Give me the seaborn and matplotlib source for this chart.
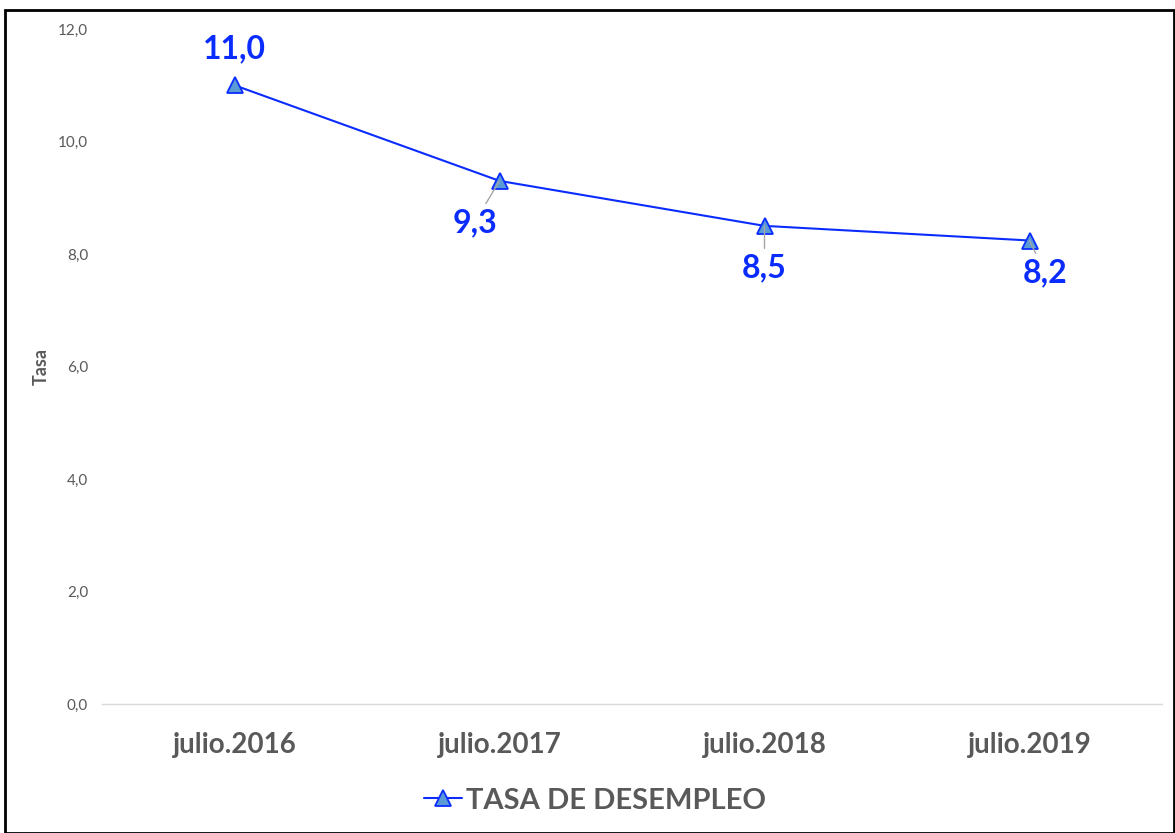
import matplotlib
matplotlib.use("Agg")
import matplotlib.pyplot as plt
import seaborn as sns
import pandas as pd
from matplotlib.patches import Rectangle

# --- DATA ---
periodos = ["julio.2016", "julio.2017", "julio.2018", "julio.2019"]
tasa = [11.0, 9.3, 8.5, 8.24]
serie = "TASA DE DESEMPLEO"
y_ticks = [0, 2, 4, 6, 8, 10, 12]

LINE_BLUE = "#0a2cff"
FILL_BLUE = "#5b9bd5"
GRAY_TXT = "#595959"

sns.set_theme(style="white")
plt.rcParams["font.family"] = ["Lato", "DejaVu Sans"]

df = pd.DataFrame({"periodo": periodos, "tasa": tasa})

fig = plt.figure(figsize=(11.75, 8.33), dpi=100)
ax = fig.add_axes([102 / 1175, 1 - 704 / 833, 1060 / 1175, 675 / 833])

sns.lineplot(data=df, x="periodo", y="tasa", ax=ax, color=LINE_BLUE, lw=1.5,
             marker="^", markersize=11, markerfacecolor=FILL_BLUE,
             markeredgecolor=LINE_BLUE, markeredgewidth=1.3, label=serie,
             sort=False)

ax.set_xlim(-0.5, len(periodos) - 0.5)
ax.set_ylim(0, 12)
ax.set_yticks(y_ticks)
ax.set_yticklabels([f"{v:.1f}".replace(".", ",") for v in y_ticks],
                   fontsize=11, color=GRAY_TXT)
ax.tick_params(axis="x", labelsize=20, labelcolor=GRAY_TXT, length=0, pad=20)
for t in ax.get_xticklabels():
    t.set_fontweight("bold")
ax.tick_params(axis="y", length=0, pad=10)
ax.set_xlabel("")
ax.set_ylabel("Tasa", fontsize=13, fontweight="bold", color=GRAY_TXT)
ax.yaxis.set_label_coords(-0.049, 0.5)

for s in ["top", "right", "left"]:
    ax.spines[s].set_visible(False)
ax.spines["bottom"].set_color("#d9d9d9")
ax.spines["bottom"].set_linewidth(1)

# data labels (offsets in points)
offsets = [(0, 26), (-18, -30), (0, -30), (11, -23)]
leader = [False, True, True, True]
for i, (v, off, ld) in enumerate(zip(tasa, offsets, leader)):
    ax.annotate(f"{v:.1f}".replace(".", ","), xy=(i, v), xytext=off,
                textcoords="offset points", ha="center", va="center",
                fontsize=23, fontweight="bold", color=LINE_BLUE,
                arrowprops=dict(arrowstyle="-", color="#a6a6a6", lw=1,
                                shrinkA=1, shrinkB=0) if ld else None)

leg = ax.legend(loc="center", bbox_to_anchor=(0.465, -0.143), frameon=False,
                handlelength=1.3, handletextpad=0.15, prop={"size": 21, "weight": "bold"})
for t in leg.get_texts():
    t.set_color(GRAY_TXT)

fig.patches.append(Rectangle((5 / 1175, 0), 1 - 5 / 1175 - 0.001, 1 - 10 / 833,
                             transform=fig.transFigure, fill=False,
                             edgecolor="black", lw=2))

fig.savefig("out.png", dpi=100)
